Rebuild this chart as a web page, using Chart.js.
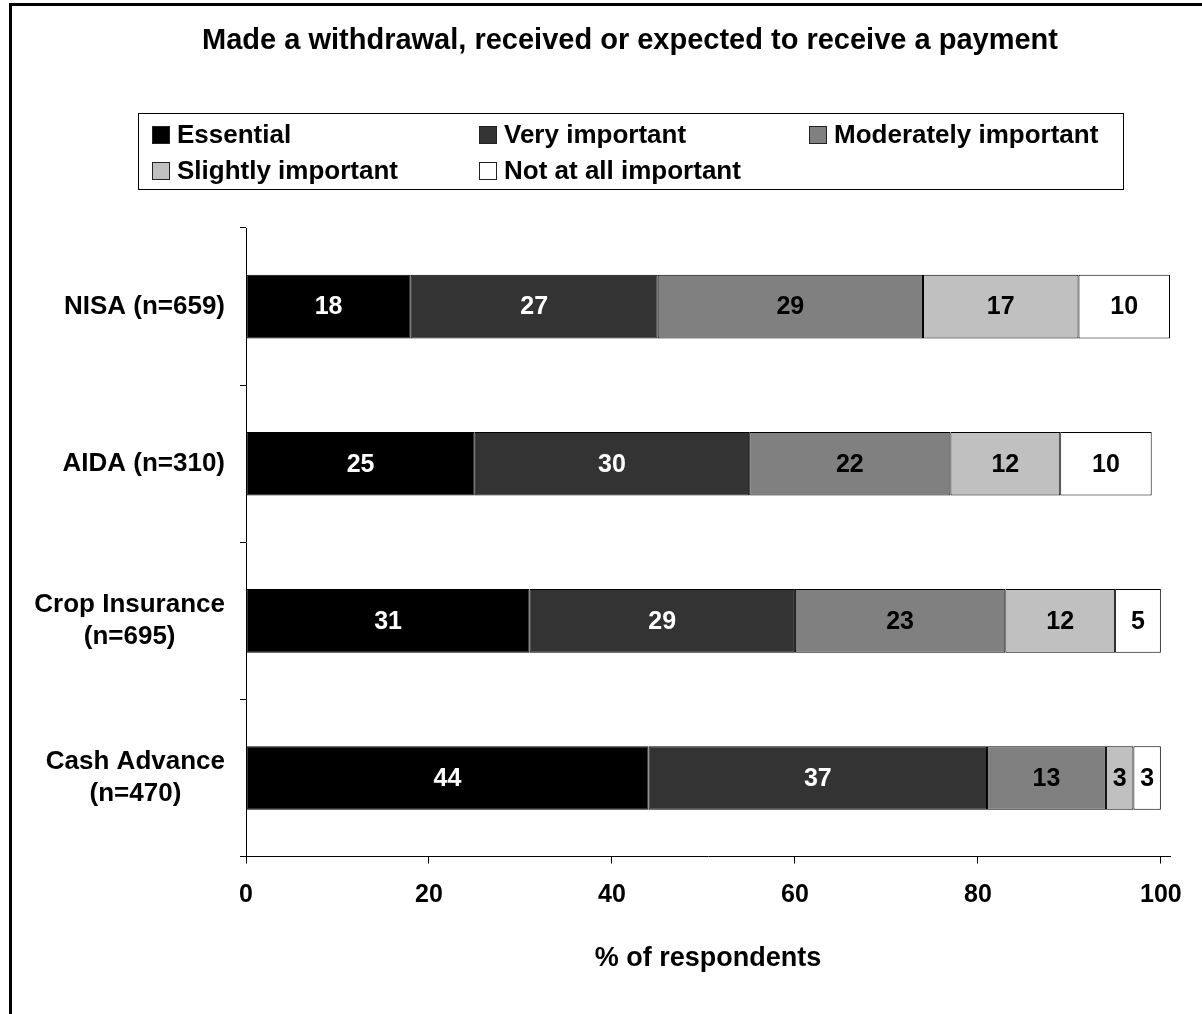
<!DOCTYPE html>
<html>
<head>
<meta charset="utf-8">
<title>Made a withdrawal, received or expected to receive a payment</title>
<script src="https://cdn.jsdelivr.net/npm/chart.js@4.4.1/dist/chart.umd.min.js"></script>
<style>
    html, body { margin: 0; padding: 0; background: #fff; overflow: hidden; }
    #frame {
        position: fixed;
        left: 9px; top: 3px; right: 0; bottom: 0;
        border-top: 3px solid #000;
        border-left: 3px solid #000;
        pointer-events: none;
    }
    canvas { display: block; }
</style>
</head>
<body>
<canvas id="chart" width="1202" height="1014"></canvas>
<div id="frame"></div>
<script>
// Chart data
const chartTitle = 'Made a withdrawal, received or expected to receive a payment';
const categories = [
    ['NISA (n=659)'],
    ['AIDA (n=310)'],
    ['Crop Insurance', '(n=695)'],
    ['Cash Advance', '(n=470)']
];
const seriesNames = ['Essential', 'Very important', 'Moderately important', 'Slightly important', 'Not at all important'];
const essential = [18, 25, 31, 44];
const veryImportant = [27, 30, 29, 37];
const moderatelyImportant = [29, 22, 23, 13];
const slightlyImportant = [17, 12, 12, 3];
const notAtAllImportant = [10, 10, 5, 3];
const xTicks = [0, 20, 40, 60, 80, 100];
const xMax = 101;
const xTitle = '% of respondents';

// Styles
const seriesColors = ['#000000', '#333333', '#808080', '#c0c0c0', '#ffffff'];
const valueColors = ['#ffffff', '#ffffff', '#000000', '#000000', '#000000'];
const fontFamily = 'Arial, "Liberation Sans", Helvetica, sans-serif';

// Legend grid (Excel style box with fixed columns)
const legendLayout = {
    box: { left: 138, top: 113, right: 1123, bottom: 189 },
    cols: [152, 479, 809],
    rows: [135, 171],
    swatch: 18
};

const seriesValues = [essential, veryImportant, moderatelyImportant, slightlyImportant, notAtAllImportant];

const datasets = seriesNames.map((name, i) => ({
    label: name,
    data: seriesValues[i],
    backgroundColor: seriesColors[i],
    borderColor: '#000000',
    borderWidth: 1,
    borderSkipped: false,
    categoryPercentage: 1.0,
    barPercentage: 0.405
}));

// Title, legend, category labels and value labels drawn on the canvas
const decorations = {
    id: 'decorations',
    afterDraw(chart) {
        const ctx = chart.ctx;
        ctx.save();

        // title
        ctx.fillStyle = '#000';
        ctx.font = `bold 29px ${fontFamily}`;
        ctx.textAlign = 'center';
        ctx.textBaseline = 'middle';
        ctx.fillText(chartTitle, 630, 41);

        // legend box
        const b = legendLayout.box;
        ctx.strokeStyle = '#000';
        ctx.lineWidth = 1;
        ctx.strokeRect(b.left + 0.5, b.top + 0.5, b.right - b.left, b.bottom - b.top);

        ctx.font = `bold 26px ${fontFamily}`;
        ctx.textAlign = 'left';
        chart.data.datasets.forEach((ds, i) => {
            const x = legendLayout.cols[i % 3];
            const y = legendLayout.rows[Math.floor(i / 3)];
            const s = legendLayout.swatch;
            ctx.fillStyle = ds.backgroundColor;
            ctx.fillRect(x, y - s / 2, s, s);
            ctx.strokeStyle = '#222';
            ctx.strokeRect(x + 0.5, y - s / 2 + 0.5, s - 1, s - 1);
            ctx.fillStyle = '#000';
            ctx.fillText(ds.label, x + s + 7, y + 1);
        });

        // category labels: block right aligned, lines centred within it
        const yScale = chart.scales.y;
        ctx.font = `bold 26px ${fontFamily}`;
        ctx.textAlign = 'center';
        ctx.fillStyle = '#000';
        const lineH = 32;
        chart.data.labels.forEach((lines, i) => {
            const cy = yScale.getPixelForValue(i);
            const w = Math.max(...lines.map(l => ctx.measureText(l).width));
            const cx = 225 - w / 2;
            const y0 = cy - (lines.length - 1) * lineH / 2;
            lines.forEach((l, k) => ctx.fillText(l, cx, y0 + k * lineH));
        });

        ctx.restore();
    },
    afterDatasetsDraw(chart) {
        const ctx = chart.ctx;
        ctx.save();
        ctx.font = `bold 25px ${fontFamily}`;
        ctx.textAlign = 'center';
        ctx.textBaseline = 'middle';
        chart.data.datasets.forEach((ds, i) => {
            const meta = chart.getDatasetMeta(i);
            ctx.fillStyle = valueColors[i];
            meta.data.forEach((bar, j) => {
                const { x, y, base } = bar.getProps(['x', 'y', 'base'], true);
                ctx.fillText(String(ds.data[j]), (x + base) / 2, y + 1);
            });
        });
        ctx.restore();
    }
};

const ctx = document.getElementById('chart').getContext('2d');
const chart = new Chart(ctx, {
    type: 'bar',
    data: {
        labels: categories,
        datasets: datasets
    },
    options: {
        indexAxis: 'y',
        responsive: false,
        animation: false,
        devicePixelRatio: 1,
        layout: {
            padding: { top: 228, right: 32, bottom: 0, left: 0 }
        },
        plugins: {
            legend: { display: false },
            title: { display: false },
            tooltip: { enabled: false }
        },
        scales: {
            x: {
                type: 'linear',
                stacked: true,
                min: 0,
                max: xMax,
                afterBuildTicks: (scale) => {
                    scale.ticks = xTicks.map(v => ({ value: v }));
                },
                border: { display: true, color: '#000', width: 1 },
                grid: {
                    drawOnChartArea: false,
                    drawTicks: true,
                    tickLength: 7,
                    color: '#000'
                },
                ticks: {
                    color: '#000',
                    padding: 17,
                    maxRotation: 0,
                    font: { family: fontFamily, size: 25, weight: 'bold' }
                },
                title: {
                    display: true,
                    text: xTitle,
                    color: '#000',
                    font: { family: fontFamily, size: 27, weight: 'bold' },
                    padding: { top: 15, bottom: 39 }
                }
            },
            y: {
                type: 'category',
                stacked: true,
                offset: true,
                border: { display: true, color: '#000', width: 1 },
                grid: {
                    offset: true,
                    drawOnChartArea: false,
                    drawTicks: true,
                    tickLength: 6,
                    color: '#000'
                },
                ticks: { display: false },
                afterFit: (scale) => {
                    scale.width = 246;
                }
            }
        }
    },
    plugins: [decorations]
});
</script>
</body>
</html>
